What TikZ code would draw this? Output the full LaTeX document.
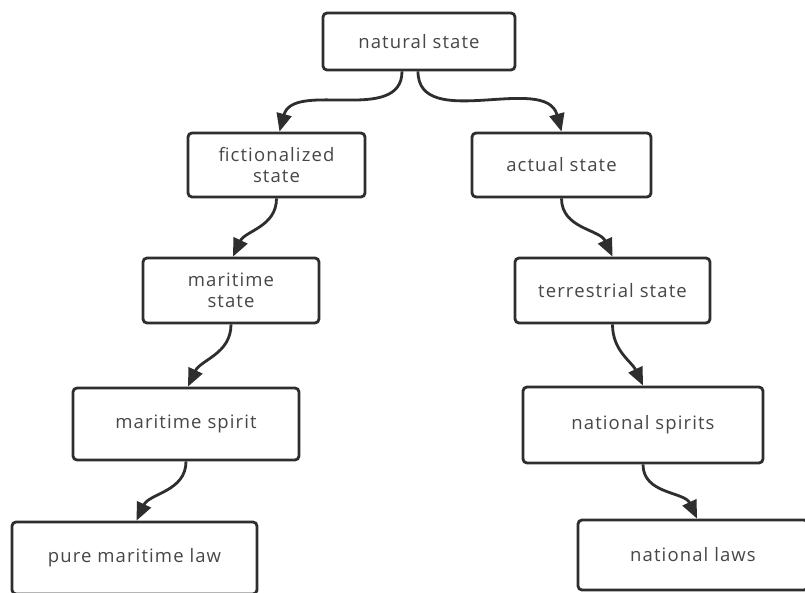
\documentclass[tikz,border=0pt]{standalone}
\usepackage{fontspec}
\setmainfont{Open Sans}[LetterSpace=6]
\usepackage{tikz}
\usetikzlibrary{arrows.meta}

\definecolor{boxline}{HTML}{2E2E2E}
\definecolor{boxtext}{HTML}{474747}

\begin{document}
\begin{tikzpicture}[x=1pt, y=1pt, ->, >={Triangle[length=18pt,width=15pt]}, line width=2.8pt, draw=boxline]
\tikzstyle{every node}=[draw=boxline, rounded corners=4pt, fill=white, text=boxtext, align=center, inner sep=0pt, font=\fontsize{18.5}{21.5}\selectfont]

\fill[white, -] (0,0) rectangle (805,-592);
\useasboundingbox (0,0) rectangle (805,-592);

\node[rectangle, minimum width=192, minimum height=57]	(N) at (419,-41.5)	{natural state};

\node[rectangle, minimum width=177, minimum height=64]	(F) at (276.5,-165)	{fictionalized\\state};
\node[rectangle, minimum width=179, minimum height=64]	(A) at (561.5,-165)	{actual state};

\node[rectangle, minimum width=176, minimum height=65]	(M) at (231,-290.5)	{maritime\\state};
\node[rectangle, minimum width=195, minimum height=65]	(T) at (612.5,-290.5)	{terrestrial state};

\node[rectangle, minimum width=226, minimum height=72]	(MS) at (186,-424)	{maritime spirit};
\node[rectangle, minimum width=240, minimum height=76]	(NS) at (643,-425)	{national spirits};

\node[rectangle, minimum width=245, minimum height=72]	(ML) at (134.5,-558)	{pure maritime law};
\node[rectangle, minimum width=230, minimum height=70]	(NL) at (693,-555)	{national laws};

\path
([xshift=-17pt]N.south) edge[out=-90, in=75]	([xshift=3pt]F.north)
([xshift=-1pt]N.south) edge[out=-90, in=105]	(A.north)

(F.south) edge[out=-90, in=65]	([xshift=2pt]M.north)
(A.south) edge[out=-90, in=115]	(T.north)

(M.south) edge[out=-90, in=65]	([xshift=2pt]MS.north)
(T.south) edge[out=-90, in=115]	(NS.north)

(MS.south) edge[out=-90, in=65]	([xshift=2pt]ML.north)
(NS.south) edge[out=-90, in=115]	([xshift=4pt]NL.north);

\end{tikzpicture}
\end{document}
